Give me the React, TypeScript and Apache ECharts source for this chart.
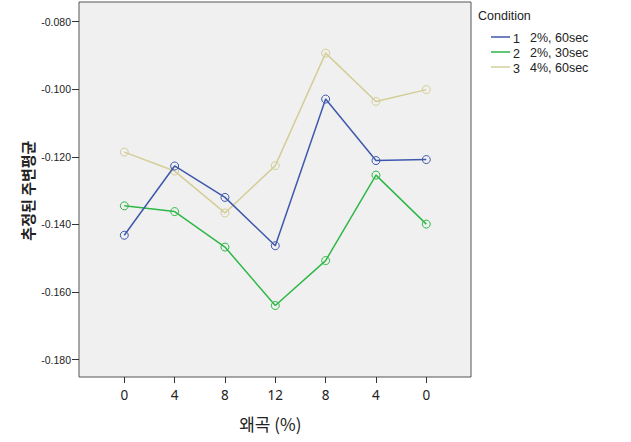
import React, { useEffect, useRef } from "react";
import * as echarts from "echarts";

// Category labels along the x axis (distortion %)
const categories = ["0", "4", "8", "12", "8", "4", "0"];
// Series (condition) codes and descriptions
const seriesCodes = ["1", "2", "3"];
const seriesLabels = ["2%, 60sec", "2%, 30sec", "4%, 60sec"];
// Estimated marginal means per condition
const cond1 = [-0.1432, -0.1227, -0.132, -0.1463, -0.1029, -0.1211, -0.1208];
const cond2 = [-0.1345, -0.1362, -0.1467, -0.164, -0.1507, -0.1254, -0.1399];
const cond3 = [-0.1186, -0.1242, -0.1366, -0.1226, -0.0893, -0.1036, -0.1001];
// Y axis tick range
const yMin = -0.18;
const yMax = -0.08;
const yStep = 0.02;

const colors = ["#3E58AC", "#2EB848", "#D3CE97"];
const seriesData = [cond1, cond2, cond3];

export default function App() {
  const ref = useRef<HTMLDivElement>(null);
  useEffect(() => {
    if (!ref.current) return;
    const chart = echarts.init(ref.current, null, { renderer: "svg" });
    const latin = "'Liberation Sans', Arial, sans-serif";
    const kr = "'Noto Sans CJK KR', 'Noto Sans', sans-serif";

    const legendGraphics: any[] = [
      {
        type: "text",
        left: 478,
        top: 9,
        style: { text: "Condition", fontSize: 12.5, fontFamily: latin, fill: "#222" },
      },
    ];
    seriesCodes.forEach((code, i) => {
      const y = 37 + i * 15;
      legendGraphics.push({
        type: "line",
        shape: { x1: 491, y1: y, x2: 510, y2: y },
        style: { stroke: colors[i], lineWidth: 1.5 },
      });
      legendGraphics.push({
        type: "text",
        x: 513,
        y: y + 2,
        style: {
          text: code,
          fontSize: 12.5,
          fontFamily: latin,
          fill: "#222",
          verticalAlign: "middle",
        },
      });
      legendGraphics.push({
        type: "text",
        x: 530,
        y: y + 1,
        style: {
          text: seriesLabels[i],
          fontSize: 12.5,
          fontFamily: latin,
          fill: "#222",
          verticalAlign: "middle",
        },
      });
    });

    chart.setOption({
      animation: false,
      backgroundColor: "#ffffff",
      grid: [
        {
          left: 79,
          top: 2,
          width: 392,
          height: 375,
          show: true,
          backgroundColor: "#f0f0f0",
          borderColor: "#555555",
          borderWidth: 1,
        },
        {
          left: 124.3,
          width: 302,
          top: 21.7,
          height: 337.9,
        },
      ],
      xAxis: [
        { gridIndex: 0, type: "value", show: false, min: 0, max: 1 },
        {
          gridIndex: 1,
          type: "category",
          data: categories,
          boundaryGap: false,
          offset: 17.4,
          axisLine: { show: false },
          axisTick: { show: true, length: 6, lineStyle: { color: "#333" } },
          axisLabel: {
            margin: 11,
            fontSize: 13.5,
            fontFamily: "'Noto Sans', sans-serif",
            color: "#222",
          },
          splitLine: { show: false },
          name: "왜곡 (%)",
          nameLocation: "middle",
          nameGap: 38,
          nameTextStyle: {
            fontSize: 17,
            fontFamily: kr,
            color: "#222",
            padding: [0, 10, 0, 0],
          },
        },
      ],
      yAxis: [
        { gridIndex: 0, type: "value", show: false, min: 0, max: 1 },
        {
          gridIndex: 1,
          type: "value",
          min: yMin,
          max: yMax,
          interval: yStep,
          offset: 45.3,
          axisLine: { show: false },
          axisTick: { show: true, length: 7, lineStyle: { color: "#333" } },
          axisLabel: {
            margin: 8,
            fontSize: 10.5,
            fontFamily: latin,
            color: "#222",
            formatter: (v: number) => v.toFixed(3),
          },
          splitLine: { show: false },
          name: "추정된 주변평균",
          nameLocation: "middle",
          nameRotate: 90,
          nameGap: 44,
          nameTextStyle: {
            fontSize: 15,
            fontWeight: "bold",
            fontFamily: kr,
            color: "#222",
          },
        },
      ],
      series: seriesData.map((d, i) => ({
        name: seriesCodes[i],
        type: "line",
        xAxisIndex: 1,
        yAxisIndex: 1,
        data: d,
        symbol: "circle",
        symbolSize: 8,
        lineStyle: { color: colors[i], width: 1.5 },
        itemStyle: { color: "rgba(0,0,0,0)", borderColor: colors[i], borderWidth: 1 },
        z: 3 - i + 2,
      })),
      graphic: legendGraphics,
    });
    return () => chart.dispose();
  }, []);
  return (
    <div
      ref={ref}
      style={{ position: "absolute", left: 0, top: 0, width: 631, height: 442 }}
    />
  );
}
